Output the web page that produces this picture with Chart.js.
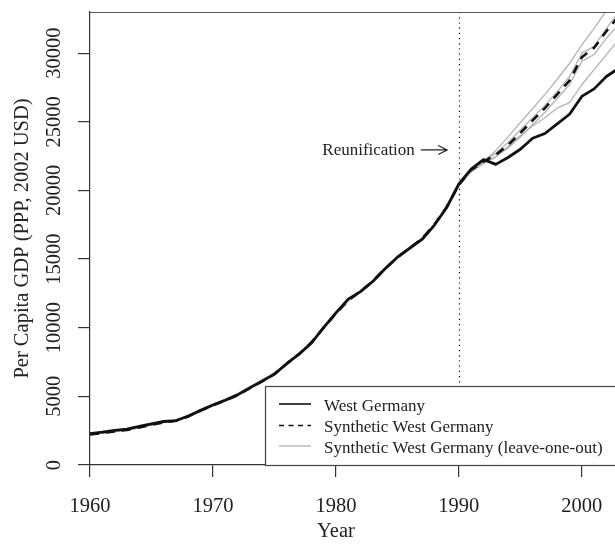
<!DOCTYPE html>
<html><head><meta charset="utf-8">
<script src="https://cdn.jsdelivr.net/npm/chart.js@4.4.0/dist/chart.umd.min.js"></script>
<style>html,body{margin:0;padding:0;background:#fff}#wrap{width:615px;height:560px;position:relative}</style>
</head><body><div id="wrap"><canvas id="c" width="615" height="560"></canvas></div>
<script>
const years = [1960,1961,1962,1963,1964,1965,1966,1967,1968,1969,1970,1971,1972,1973,1974,1975,1976,1977,1978,1979,1980,1981,1982,1983,1984,1985,1986,1987,1988,1989,1990,1991,1992,1993,1994,1995,1996,1997,1998,1999,2000,2001,2002,2003];
const westGermany = [2280,2390,2530,2610,2810,3000,3170,3240,3570,3980,4370,4720,5110,5620,6110,6620,7380,8070,8880,10000,11080,12080,12630,13370,14290,15140,15790,16430,17460,18740,20470,21550,22250,21900,22400,23000,23800,24150,24850,25550,26850,27400,28300,28900];
const syntheticWG = [2230,2330,2450,2560,2740,2930,3110,3220,3540,3960,4350,4700,5080,5600,6090,6620,7380,8090,8920,10010,11030,11990,12650,13400,14300,15120,15800,16480,17500,18780,20400,21500,22100,22600,23300,24200,25100,26000,27000,28000,29700,30400,31600,32700];
const leaveOut1 = [2250,2360,2480,2590,2780,2970,3150,3260,3600,4030,4440,4800,5200,5720,6220,6720,7440,8120,8930,10030,11060,12030,12680,13420,14330,15150,15820,16500,17530,18800,20500,21450,22100,22900,23900,24950,25950,27000,28100,29250,30600,31800,33100,34300];
const leaveOut2 = [2220,2320,2440,2550,2730,2920,3100,3210,3530,3950,4340,4690,5070,5590,6080,6600,7350,8060,8900,9990,11010,11970,12620,13380,14280,15110,15790,16470,17490,18760,20450,21500,22150,22700,23500,24400,25300,26200,27200,28300,30000,30500,31800,33000];
const leaveOut3 = [2240,2340,2460,2570,2760,2950,3130,3240,3580,4000,4400,4760,5160,5670,6160,6660,7400,8090,8900,10000,11040,12010,12660,13400,14310,15130,15800,16480,17500,18770,20400,21450,22050,22450,23100,23900,24800,25700,26700,27700,29400,29900,31100,32100];
const leaveOut4 = [2200,2300,2420,2530,2710,2900,3080,3190,3510,3930,4320,4670,5050,5570,6060,6580,7330,8050,8890,9990,11000,11960,12610,13370,14270,15100,15780,16460,17480,18750,20350,21350,21950,22450,23200,24000,24700,25300,26000,26400,27700,28800,29900,31000];
const xTicks = [1960,1970,1980,1990,2000];
const yTicks = [0,5000,10000,15000,20000,25000,30000];
const legendLabels = ['West Germany','Synthetic West Germany','Synthetic West Germany (leave-one-out)'];
const xTitle = 'Year';
const yTitle = 'Per Capita GDP (PPP, 2002 USD)';
const eventYear = 1990;
const eventLabel = 'Reunification';

const serif = '"Liberation Serif", "Times New Roman", serif';
const GRAY = '#b3b3b3';
const AX = '#333333';
const pts = s => years.map((yr, i) => ({x: yr, y: s[i]}));

const deco = {
  id: 'deco',
  beforeDatasetsDraw(chart) {
    const {ctx, chartArea: a, scales: {x}} = chart;
    const px = Math.round(x.getPixelForValue(eventYear)) + 0.5;
    ctx.save();
    ctx.strokeStyle = '#000'; ctx.lineWidth = 1.2; ctx.setLineDash([1.2, 4]);
    ctx.beginPath(); ctx.moveTo(px, a.top); ctx.lineTo(px, a.bottom); ctx.stroke();
    ctx.restore();
  },
  afterDatasetsDraw(chart) {
    const {ctx, chartArea: a, scales: {x, y}} = chart;
    ctx.save();
    // top border
    ctx.strokeStyle = '#555'; ctx.lineWidth = 1.2;
    ctx.beginPath(); ctx.moveTo(a.left, a.top + 0.5); ctx.lineTo(a.right, a.top + 0.5); ctx.stroke();
    // legend box
    const bx = 265.5, by = 386.5, bw = 360, bh = a.bottom - 386;
    ctx.fillStyle = '#fff'; ctx.fillRect(bx, by, bw, bh);
    ctx.strokeStyle = '#444'; ctx.lineWidth = 1.2; ctx.strokeRect(bx, by, bw, bh);
    const rows = [404, 425.5, 446];
    const styles = [
      {c: '#111', w: 1.6, d: []},
      {c: '#111', w: 1.6, d: [5, 4.5]},
      {c: GRAY, w: 1.3, d: []}
    ];
    ctx.font = '17px ' + serif; ctx.fillStyle = '#222'; ctx.textAlign = 'left'; ctx.textBaseline = 'alphabetic';
    rows.forEach((ry, i) => {
      ctx.strokeStyle = styles[i].c; ctx.lineWidth = styles[i].w; ctx.setLineDash(styles[i].d);
      ctx.beginPath(); ctx.moveTo(279, ry); ctx.lineTo(311, ry); ctx.stroke();
      ctx.fillText(legendLabels[i], 324, ry + 6.5);
    });
    ctx.setLineDash([]);
    // annotation
    const ay = y.getPixelForValue(22950);
    const tx = x.getPixelForValue(1986.42);
    ctx.font = '17px ' + serif; ctx.fillStyle = '#222'; ctx.textAlign = 'right';
    ctx.fillText(eventLabel, tx, ay + 5.5);
    const x0 = x.getPixelForValue(1986.9), x1 = x.getPixelForValue(1989.05);
    ctx.strokeStyle = '#222'; ctx.lineWidth = 1.2;
    ctx.beginPath(); ctx.moveTo(x0, ay); ctx.lineTo(x1, ay);
    ctx.moveTo(x1 - 9, ay - 4.5); ctx.lineTo(x1, ay); ctx.lineTo(x1 - 9, ay + 4.5); ctx.stroke();
    ctx.restore();
  },
  afterDraw(chart) {
    const {ctx, chartArea: a, scales: {x, y}} = chart;
    ctx.save();
    ctx.fillStyle = '#222';
    ctx.font = '20.5px ' + serif;
    ctx.textAlign = 'center'; ctx.textBaseline = 'alphabetic';
    xTicks.forEach(v => ctx.fillText(String(v), x.getPixelForValue(v), a.bottom + 46.5));
    ctx.fillText(xTitle, (a.left + 336) / 2 + (336 - a.left) / 2 - 0, a.bottom + 71.5);
    yTicks.forEach(v => {
      ctx.save(); ctx.translate(60, y.getPixelForValue(v)); ctx.rotate(-Math.PI / 2);
      ctx.fillText(String(v), 0, 0); ctx.restore();
    });
    ctx.save(); ctx.translate(28, (a.top + a.bottom) / 2); ctx.rotate(-Math.PI / 2);
    ctx.fillText(yTitle, 0, 0); ctx.restore();
    ctx.restore();
  }
};

new Chart(document.getElementById('c'), {
  type: 'line',
  data: {
    datasets: [
      {label: legendLabels[1], data: pts(syntheticWG), borderColor: '#111', borderWidth: 2.6, borderDash: [9, 7]},
      {label: legendLabels[0], data: pts(westGermany), borderColor: '#111', borderWidth: 2.8},
      {label: legendLabels[2], data: pts(leaveOut1), borderColor: GRAY, borderWidth: 1.3},
      {label: legendLabels[2], data: pts(leaveOut2), borderColor: GRAY, borderWidth: 1.3},
      {label: legendLabels[2], data: pts(leaveOut3), borderColor: GRAY, borderWidth: 1.3},
      {label: legendLabels[2], data: pts(leaveOut4), borderColor: GRAY, borderWidth: 1.3}
    ]
  },
  options: {
    responsive: false, animation: false, devicePixelRatio: 1, events: [],
    layout: {padding: {top: 12, left: 0, right: 0, bottom: 0}},
    elements: {point: {radius: 0}, line: {tension: 0, fill: false, borderCapStyle: 'butt', borderJoinStyle: 'round'}},
    plugins: {legend: {display: false}, tooltip: {enabled: false}, title: {display: false}},
    scales: {
      x: {
        type: 'linear', min: 1960, max: 2002.7,
        afterBuildTicks: s => { s.ticks = xTicks.map(v => ({value: v})); },
        afterFit: s => { s.height = 95; },
        ticks: {display: false},
        grid: {drawOnChartArea: false, drawTicks: true, tickLength: 12, color: AX, lineWidth: 1.2},
        border: {display: true, color: AX, width: 1.2}
      },
      y: {
        type: 'linear', min: 0, max: 33000,
        afterBuildTicks: s => { s.ticks = yTicks.map(v => ({value: v})); },
        afterFit: s => { s.width = 90; },
        ticks: {display: false},
        grid: {drawOnChartArea: false, drawTicks: true, tickLength: 12, color: AX, lineWidth: 1.2},
        border: {display: true, color: AX, width: 1.2}
      }
    }
  },
  plugins: [deco]
});
</script>
</body></html>
